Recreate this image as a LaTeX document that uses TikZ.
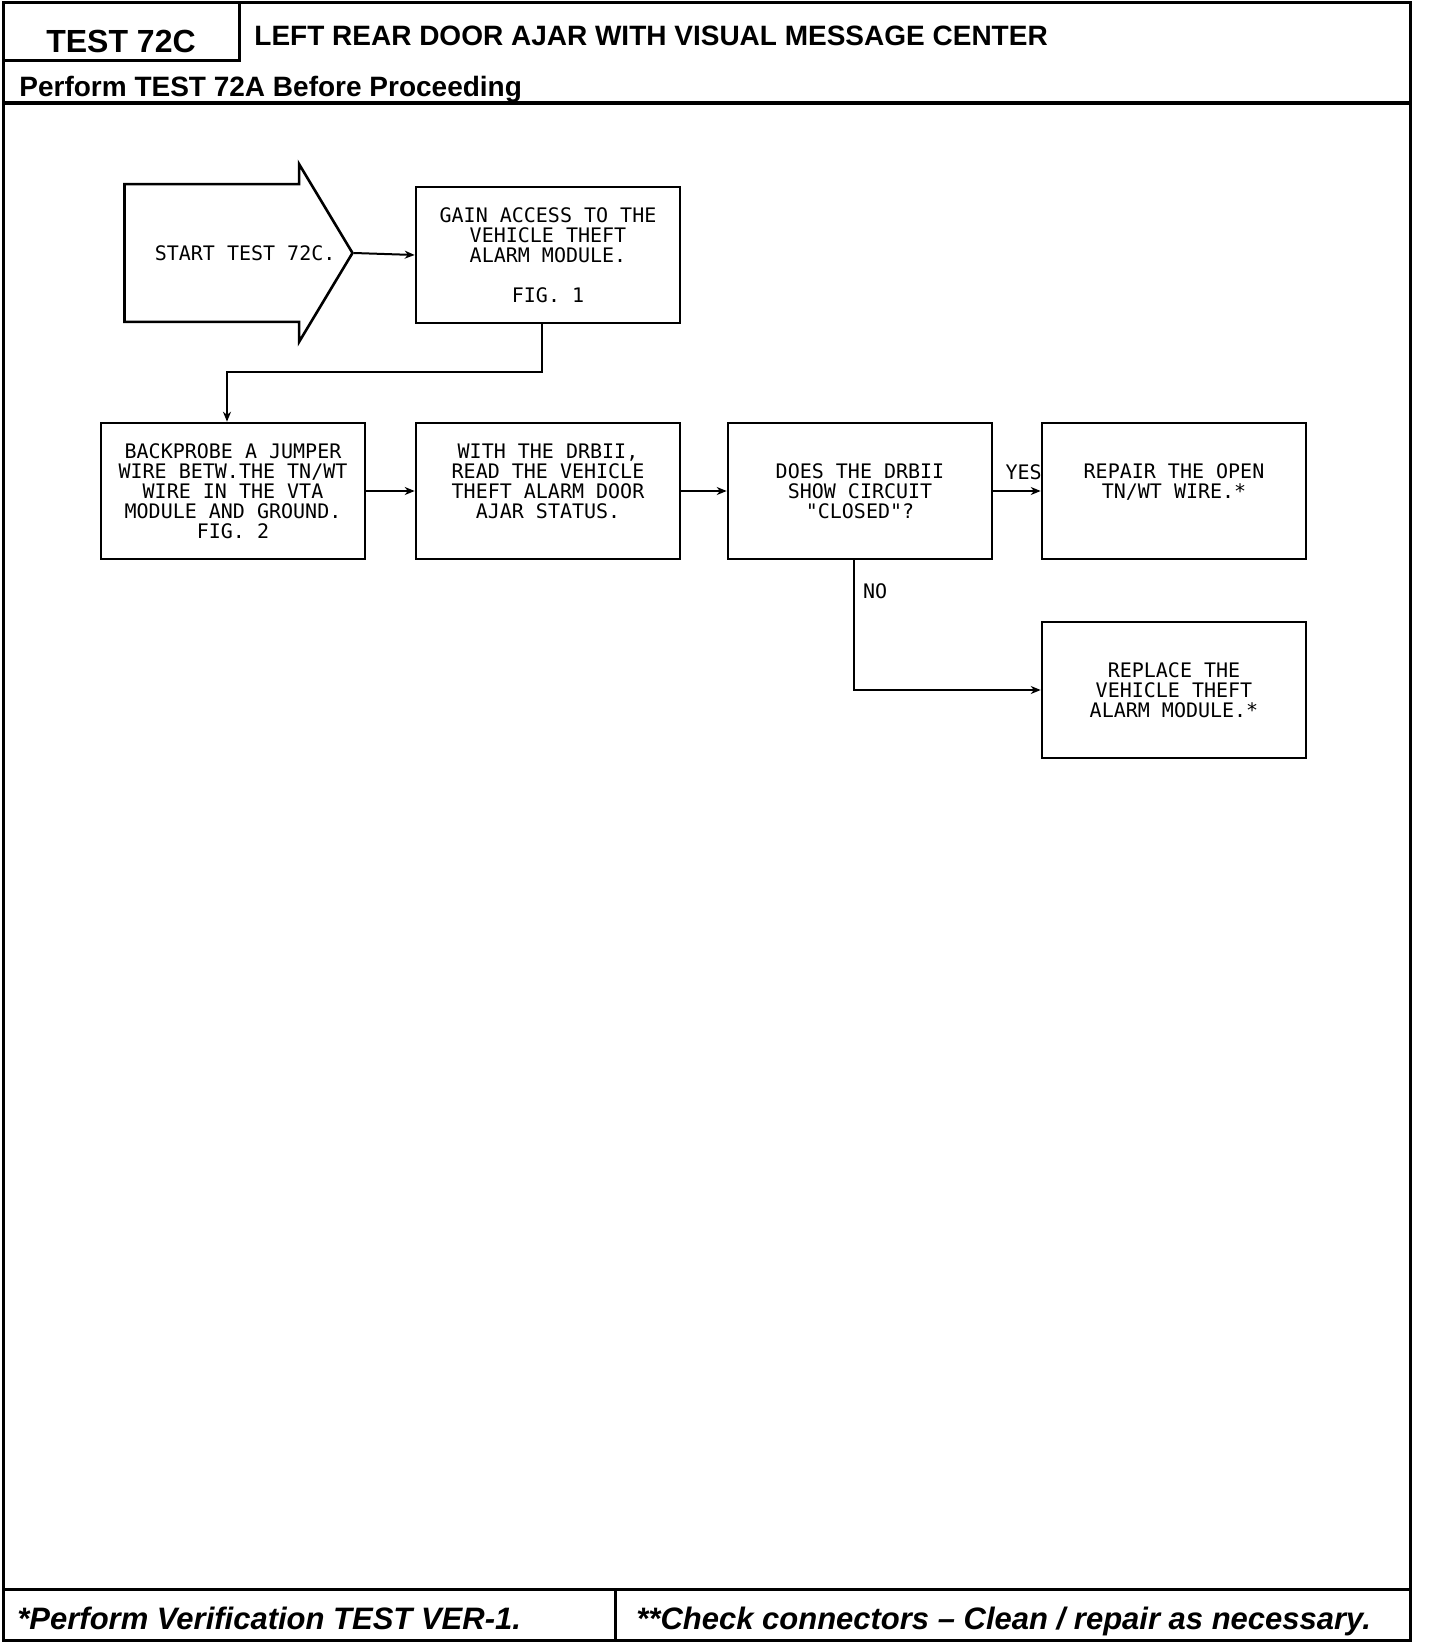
\documentclass[tikz,border=0pt]{standalone}
\usepackage{fontspec}
\setmainfont{Liberation Sans}
\newfontfamily\plotfont{DejaVu Sans Mono}[Ligatures=TeXOff]
\usetikzlibrary{shapes.arrows,arrows.meta}

\begin{document}
\begin{tikzpicture}[x=0.5pt, y=-0.5pt,
    stepbox/.style={draw, line width=1.3pt, minimum width=132pt, minimum height=68pt,
        align=center, inner sep=0pt, font=\plotfont\fontsize{10}{10}\selectfont},
    link/.style={->, line width=1pt, >={Stealth[length=5pt, width=4pt]}},
    tag/.style={inner sep=0pt, font=\plotfont\fontsize{10}{10}\selectfont}]
    \useasboundingbox (0,0) rectangle (1440,1648);

    % Frame
    \draw[line width=1.5pt] (3,3) rectangle (1410,1640);
    \draw[line width=1.5pt] (3,61) -| (239,3);
    \draw[line width=2pt] (3,103) -- (1410,103);
    \draw[line width=1.5pt] (3,1589) -- (1410,1589);
    \draw[line width=1.5pt] (615,1589) -- (615,1640);

    % Header
    \node[anchor=base, inner sep=0pt, font=\bfseries\fontsize{16}{16}\selectfont] (testnr) at (121,53) {TEST 72C};
    \node[anchor=base west, inner sep=0pt, font=\bfseries\fontsize{14}{14}\selectfont] (title) at (254,46) {LEFT REAR DOOR AJAR WITH VISUAL MESSAGE CENTER};
    \node[anchor=base west, inner sep=0pt, font=\bfseries\fontsize{14}{14}\selectfont] (before) at (19,97) {Perform TEST 72A Before Proceeding};

    % Steps
    \node[single arrow, draw, line width=1.3pt, minimum height=114pt,
        single arrow head extend=10pt, single arrow tip angle=118, inner xsep=0pt, inner ysep=30pt,
        anchor=tip, font=\plotfont\fontsize{10}{10}\selectfont] (start) at (354,253)
        {\makebox[87pt][l]{\hspace{12pt}START TEST 72C.}};
    \node[stepbox] (gain) at (548,255) {GAIN ACCESS TO THE\\VEHICLE THEFT\\ALARM MODULE.\\[10pt]FIG. 1};
    \node[stepbox] (backprobe) at (233,491) {BACKPROBE A JUMPER\\WIRE BETW.THE TN/WT\\WIRE IN THE VTA\\MODULE AND GROUND.\\FIG. 2};
    \node[stepbox] (drbread) at (548,491) {WITH THE DRBII,\\READ THE VEHICLE\\THEFT ALARM DOOR\\AJAR STATUS.\\\mbox{}};
    \node[stepbox] (closed) at (860,491) {DOES THE DRBII\\SHOW CIRCUIT\\"CLOSED"?};
    \node[stepbox] (repair) at (1174,491) {REPAIR THE OPEN\\TN/WT WIRE.*\\\mbox{}};
    \node[stepbox] (replace) at (1174,690) {REPLACE THE\\VEHICLE THEFT\\ALARM MODULE.*};

    % Connectors
    \draw[link] (start.tip) -- (gain.west);
    \draw[link] ([xshift=-3pt]gain.south) -- ++(0,48) -| ([xshift=-3pt]backprobe.north);
    \draw[link] (backprobe.east) -- (drbread.west);
    \draw[link] (drbread.east) -- (closed.west);
    \draw[link] (closed.east) -- (repair.west) node[tag, pos=0.64, above=5pt] {YES};
    \draw[link] ([xshift=-3pt]closed.south) |- (replace.west) node[tag, pos=0.12, right=4pt] {NO};

    % Footer
    \node[anchor=base west, inner sep=0pt, font=\bfseries\itshape\fontsize{15.5}{15.5}\selectfont] (verify) at (17,1629) {*Perform Verification TEST VER-1.};
    \node[anchor=base west, inner sep=0pt, font=\bfseries\itshape\fontsize{15.5}{15.5}\selectfont] (hint) at (636,1629) {**Check connectors – Clean / repair as necessary.};
\end{tikzpicture}
\end{document}
